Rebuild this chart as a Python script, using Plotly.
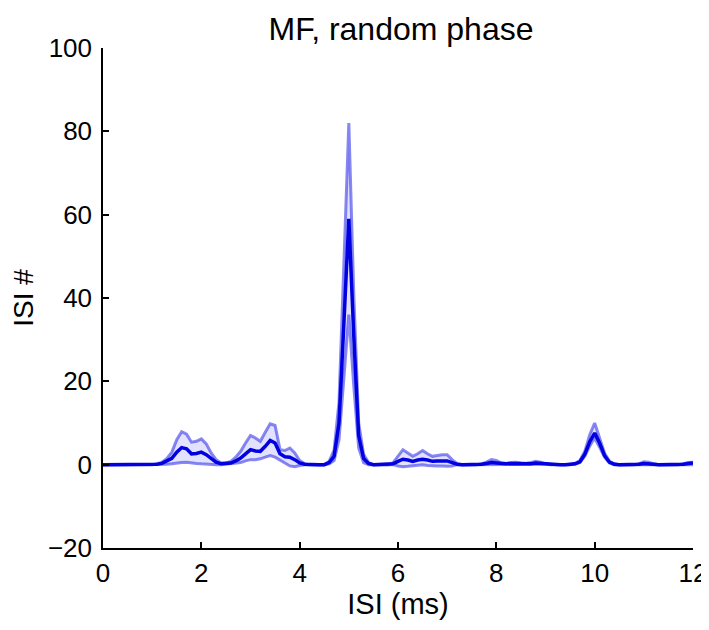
import plotly.graph_objects as go

# ISI bin centres (ms)
isi_ms = [
    0.0, 0.1, 0.2, 0.3, 0.4, 0.5, 0.6, 0.7, 0.8, 0.9, 1.0,
    1.1, 1.2, 1.3, 1.4, 1.5, 1.6, 1.7, 1.8, 1.9, 2.0,
    2.1, 2.2, 2.3, 2.4, 2.5, 2.6, 2.7, 2.8, 2.9, 3.0,
    3.1, 3.2, 3.3, 3.4, 3.5, 3.6, 3.7, 3.8, 3.9, 4.0,
    4.1, 4.2, 4.3, 4.4, 4.5, 4.6, 4.7, 4.8, 4.9, 5.0,
    5.1, 5.2, 5.3, 5.4, 5.5, 5.6, 5.7, 5.8, 5.9, 6.0,
    6.1, 6.2, 6.3, 6.4, 6.5, 6.6, 6.7, 6.8, 6.9, 7.0,
    7.1, 7.2, 7.3, 7.4, 7.5, 7.6, 7.7, 7.8, 7.9, 8.0,
    8.1, 8.2, 8.3, 8.4, 8.5, 8.6, 8.7, 8.8, 8.9, 9.0,
    9.1, 9.2, 9.3, 9.4, 9.5, 9.6, 9.7, 9.8, 9.9, 10.0,
    10.1, 10.2, 10.3, 10.4, 10.5, 10.6, 10.7, 10.8, 10.9, 11.0,
    11.1, 11.2, 11.3, 11.4, 11.5, 11.6, 11.7, 11.8, 11.9, 12.0,
]

isi_mean = [
    0, 0, 0, 0, 0, 0, 0, 0, 0, 0, 0,
    0.1, 0.3, 0.8, 1.5, 3.0, 4.1, 3.8, 2.6, 2.7, 3.0,
    2.4, 1.4, 0.6, 0.2, 0.2, 0.4, 0.9, 1.6, 2.6, 3.6,
    3.3, 3.2, 4.4, 5.8, 5.2, 2.6, 1.9, 1.8, 1.2, 0.4,
    0.1, 0, 0, 0, 0, 0.5, 2.0, 10, 34, 59,
    31, 7, 1.5, 0.3, 0, 0, 0, 0, 0.2, 0.8,
    1.3, 1.1, 0.8, 1.1, 1.3, 1.1, 0.8, 0.9, 1.0, 0.9,
    0.5, 0.1, 0, 0, 0, 0, 0.1, 0.3, 0.5, 0.4,
    0.2, 0.2, 0.3, 0.3, 0.2, 0.1, 0.2, 0.4, 0.3, 0.1,
    0, 0, 0, 0, 0, 0.2, 0.7, 2.5, 5.5, 7.6,
    5.2, 2.2, 0.6, 0.1, 0, 0, 0, 0, 0.1, 0.3,
    0.3, 0.1, 0, 0, 0, 0, 0, 0.1, 0.3, 0.4,
]

isi_upper = [
    0, 0, 0, 0, 0, 0, 0, 0, 0, 0, 0,
    0.2, 0.6, 1.5, 3.0, 6.0, 7.9, 7.3, 5.4, 5.6, 6.2,
    5.0, 2.8, 1.2, 0.4, 0.4, 0.8, 1.8, 3.2, 5.2, 7.0,
    6.4, 5.6, 7.8, 9.8, 9.4, 3.6, 3.4, 4.0, 2.8, 1.0,
    0.2, 0, 0, 0, 0, 0.8, 3.5, 15, 48, 82,
    41, 10, 2.5, 0.5, 0, 0, 0, 0, 0.5, 2.0,
    3.6, 2.8, 2.0, 2.6, 3.4, 2.6, 2.0, 2.2, 2.4, 2.4,
    1.2, 0.3, 0, 0, 0, 0, 0.2, 0.6, 1.2, 1.0,
    0.4, 0.3, 0.5, 0.6, 0.4, 0.3, 0.5, 0.8, 0.6, 0.2,
    0, 0, 0, 0, 0, 0.3, 1.0, 3.2, 7.2, 10.0,
    6.6, 2.8, 0.8, 0.2, 0, 0, 0, 0, 0.2, 0.7,
    0.6, 0.2, 0, 0, 0, 0, 0, 0.2, 0.5, 0.6,
]

isi_lower = [
    0, 0, 0, 0, 0, 0, 0, 0, 0, 0, 0,
    0, 0.05, 0.1, 0.2, 0.4, 0.5, 0.6, 0.4, 0.3, 0.2,
    0.1, 0, 0, 0, 0.1, 0.2, 0.3, 0.5, 0.9, 1.2,
    1.2, 1.4, 1.8, 2.2, 1.8, 1.2, 0.4, -0.3, -0.5, -0.2,
    0, 0, 0, 0, 0, 0.2, 1.0, 6, 21, 36,
    19, 4, 0.5, 0, 0, 0, 0, 0, 0, -0.3,
    -0.5, -0.4, -0.3, -0.1, 0, -0.2, -0.3, -0.3, -0.3, -0.4,
    -0.3, 0, 0, 0, 0, 0, 0, 0, 0, 0,
    0, 0, 0, 0, 0, 0, 0, 0, 0, 0,
    0, 0, 0, 0, 0, 0.1, 0.5, 2.0, 4.5, 6.4,
    4.2, 1.8, 0.4, 0, 0, 0, 0, 0, 0, 0,
    0, 0, 0, 0, 0, 0, 0, 0, 0, 0,
]

BAND_LINE = "rgba(20,20,230,0.5)"
BAND_FILL = "rgba(60,60,255,0.15)"
MEAN_LINE = "rgb(0,0,225)"
FONT = "Liberation Sans, Arial, Helvetica, sans-serif"

fig = go.Figure()
fig.add_trace(go.Scatter(x=isi_ms, y=isi_lower, mode="lines",
                         line=dict(color=BAND_LINE, width=3)))
fig.add_trace(go.Scatter(x=isi_ms, y=isi_upper, mode="lines", fill="tonexty",
                         fillcolor=BAND_FILL, line=dict(color=BAND_LINE, width=3)))
fig.add_trace(go.Scatter(x=isi_ms, y=isi_mean, mode="lines",
                         line=dict(color=MEAN_LINE, width=3.5)))

axis_style = dict(
    showgrid=False, zeroline=False, showline=True, linecolor="black", linewidth=1.5,
    ticks="inside", ticklen=6, tickwidth=1.5, tickcolor="black", automargin=False,
    tickfont=dict(size=26, color="black", family=FONT), mirror=False,
)

# page has an 8px body margin, so the figure is sized to fit the window
fig.update_layout(
    width=701, height=622,
    plot_bgcolor="white", paper_bgcolor="white",
    showlegend=False,
    font=dict(family=FONT, color="black"),
    margin=dict(l=95, r=16, t=40, b=82),
    title=dict(text="MF, random phase", x=0.5606, xanchor="center", y=0.985, yanchor="top",
               font=dict(size=32, color="black", family=FONT)),
    xaxis=dict(range=[0, 12], tickvals=[0, 2, 4, 6, 8, 10, 12], ticklabelstandoff=1,
               title=dict(text="ISI (ms)", font=dict(size=29), standoff=6), **axis_style),
    yaxis=dict(range=[-20, 100], tickvals=[-20, 0, 20, 40, 60, 80, 100], ticklabelstandoff=4,
               title=dict(text="ISI #", font=dict(size=28), standoff=14), **axis_style),
)

fig.write_html("out.html")
